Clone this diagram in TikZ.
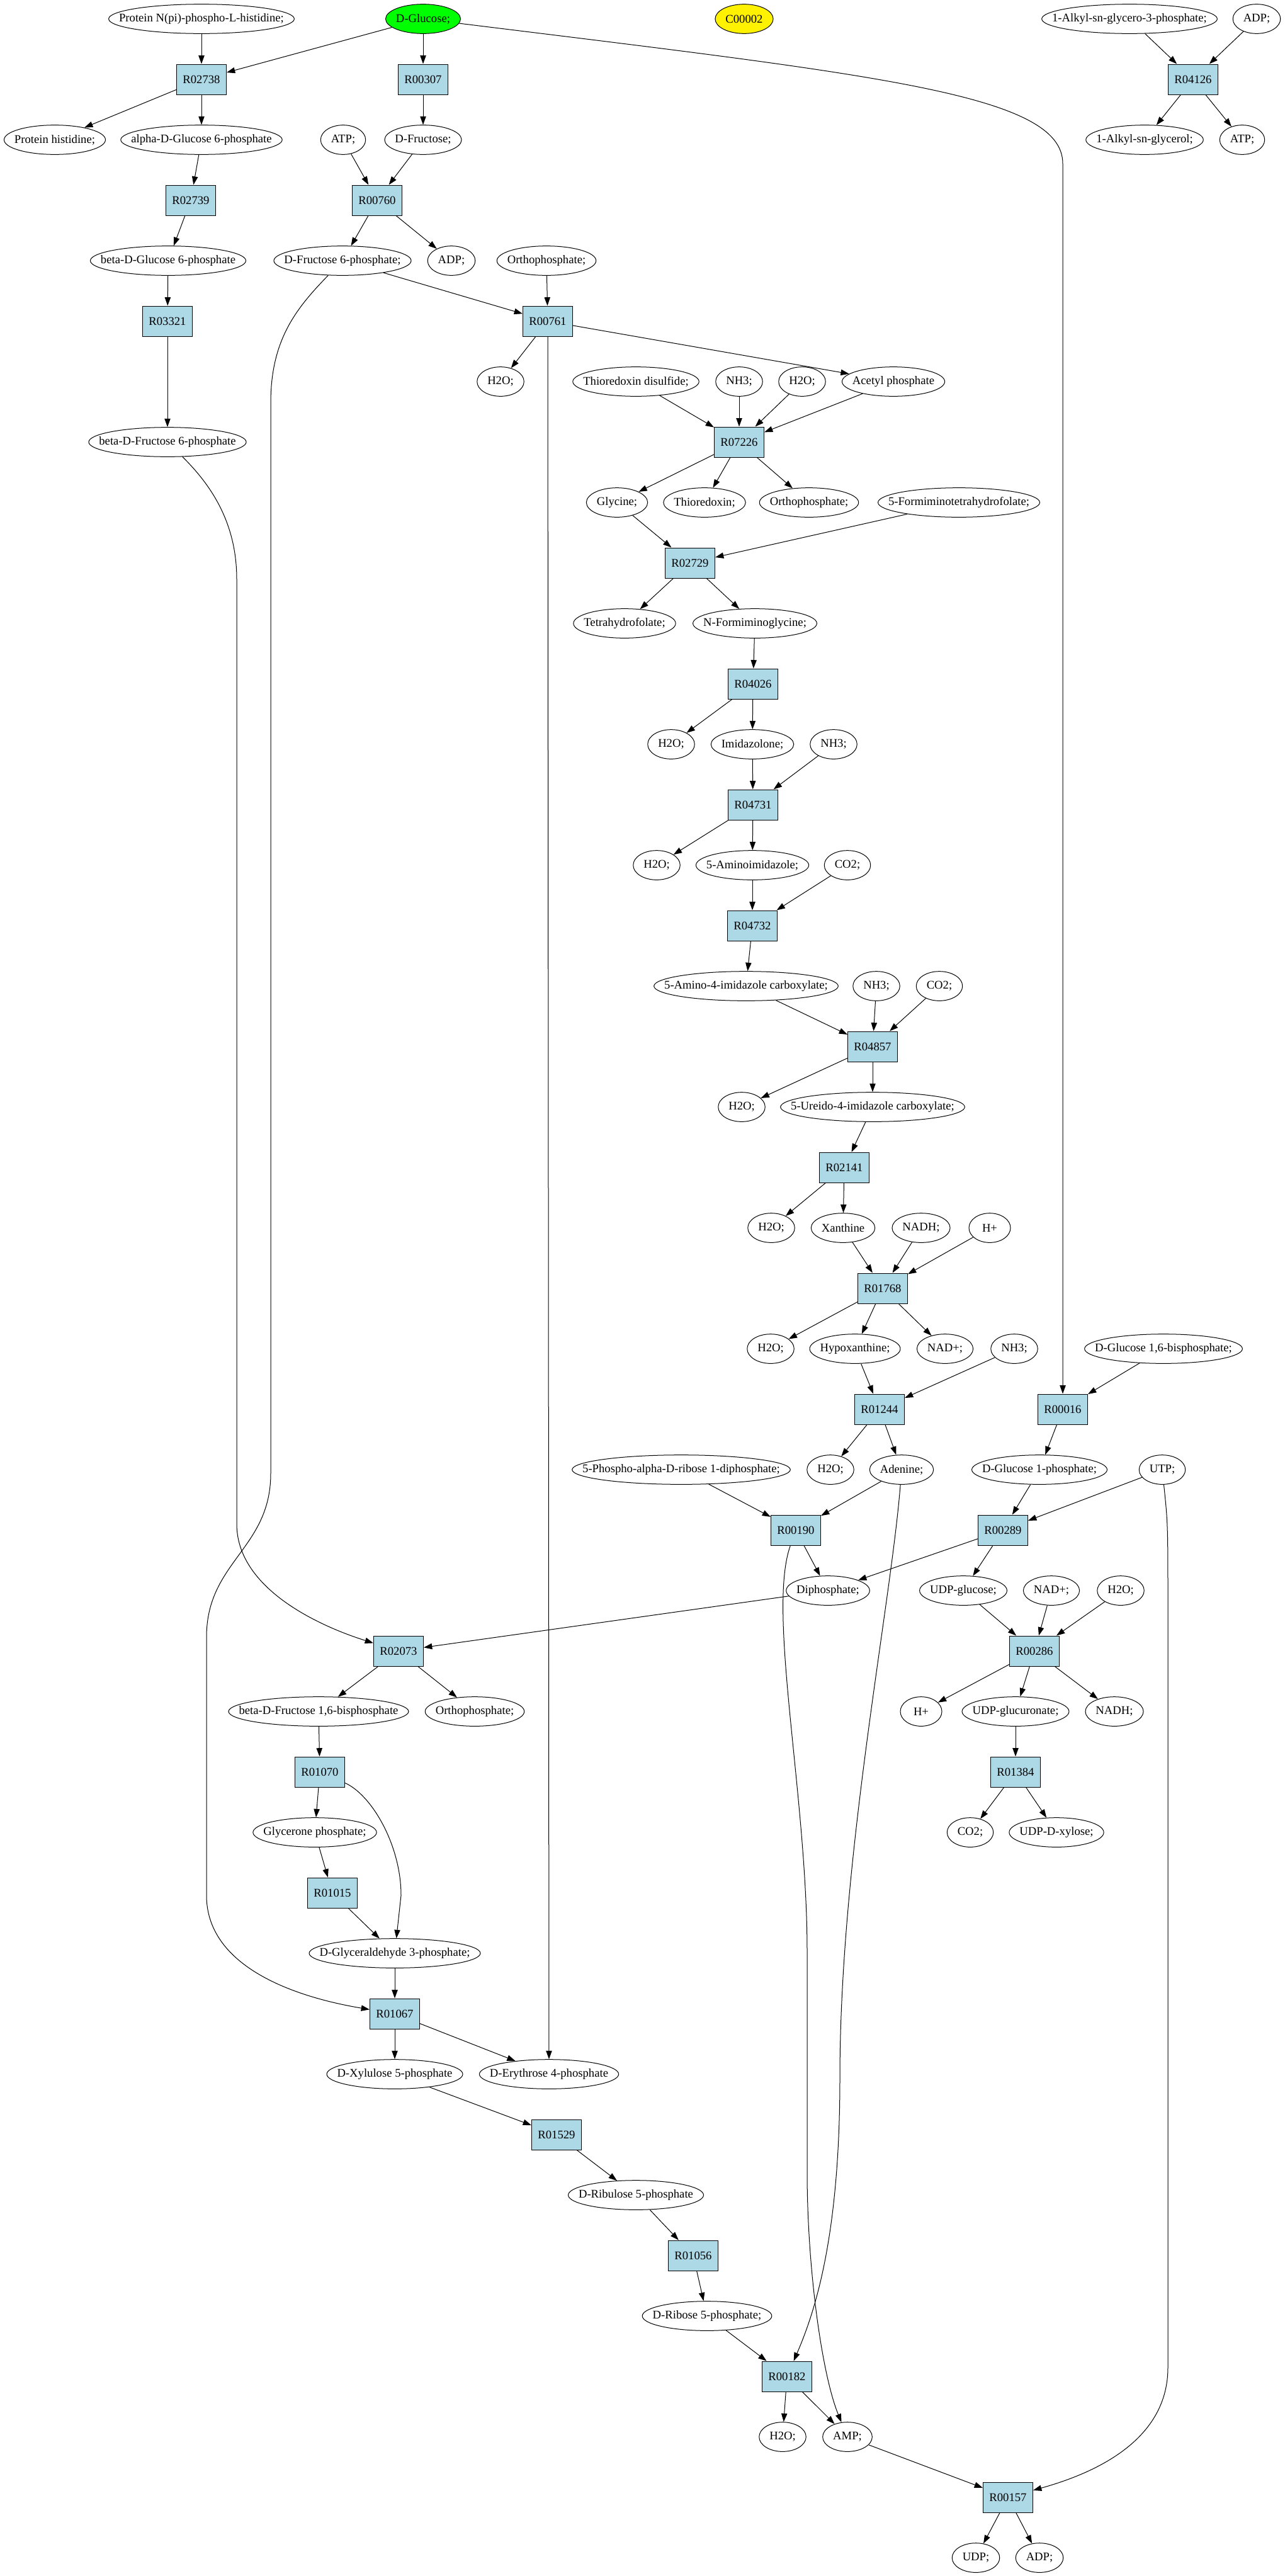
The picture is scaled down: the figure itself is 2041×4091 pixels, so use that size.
\documentclass[tikz,border=0pt]{standalone}
\usepackage{fontspec}
\setmainfont{Liberation Serif}
\usetikzlibrary{arrows.meta}
\usetikzlibrary{shapes.geometric}
\definecolor{reactionBlue}{HTML}{ADD8E6}
\newcommand{\compoundFont}{\fontsize{14}{16}\selectfont}
\newlength{\compoundWidth}
\newcommand{\keggCompound}[4][]{
  \node[compound,#1] (#2) at #3 {\settowidth{\compoundWidth}{#4}\makebox[\dimexpr(\compoundWidth+24.75pt)*7071/10000\relax]{#4}}
}

\begin{document}
\begin{tikzpicture}[x=0.75pt,y=-0.75pt,line width=0.75pt,
  compound/.style={ellipse,draw,inner sep=0pt,minimum width=49.5pt,minimum height=35pt,font=\compoundFont},
  reaction/.style={rectangle,draw,fill=reactionBlue,inner sep=0pt,minimum width=59.25pt,minimum height=36pt,font=\compoundFont},
  rxnarrow/.style={-{Triangle[length=10pt,width=7pt]}}]
  \useasboundingbox (0,0) rectangle (2041,4091);

  \keggCompound{pnh}{(320,30)}{Protein N(pi)-phospho-L-histidine;};
  \keggCompound[fill=green]{glc}{(672,30)}{D-Glucose;};
  \keggCompound[fill=yellow]{c00002}{(1182,30)}{C00002};
  \keggCompound{alkgp}{(1794,30)}{1-Alkyl-sn-glycero-3-phosphate;};
  \keggCompound{adpA}{(1996,30)}{ADP;};
  \node[reaction] (r02738) at (320,126) {R02738};
  \node[reaction] (r00307) at (672,126) {R00307};
  \node[reaction] (r04126) at (1895,126) {R04126};
  \keggCompound{phis}{(87,222)}{Protein histidine;};
  \keggCompound{ag6p}{(320,222)}{alpha-D-Glucose 6-phosphate};
  \keggCompound{atpA}{(545,222)}{ATP;};
  \keggCompound{fru}{(672,222)}{D-Fructose;};
  \keggCompound{alkg}{(1818,222)}{1-Alkyl-sn-glycerol;};
  \keggCompound{atpB}{(1973,222)}{ATP;};
  \node[reaction] (r02739) at (303,318) {R02739};
  \node[reaction] (r00760) at (599,318) {R00760};
  \keggCompound{bg6p}{(267,414)}{beta-D-Glucose 6-phosphate};
  \keggCompound{f6p}{(544,414)}{D-Fructose 6-phosphate;};
  \keggCompound{adpB}{(717,414)}{ADP;};
  \keggCompound{piA}{(868,414)}{Orthophosphate;};
  \node[reaction] (r03321) at (266,510) {R03321};
  \node[reaction] (r00761) at (870,510) {R00761};
  \keggCompound{h2oA}{(795,606)}{H2O;};
  \keggCompound{trxss}{(1010,606)}{Thioredoxin disulfide;};
  \keggCompound{nh3A}{(1174,606)}{NH3;};
  \keggCompound{h2oB}{(1274,606)}{H2O;};
  \keggCompound{acp}{(1419,606)}{Acetyl phosphate};
  \keggCompound{bf6p}{(266,702)}{beta-D-Fructose 6-phosphate};
  \node[reaction] (r07226) at (1174,702) {R07226};
  \keggCompound{gly}{(980,798)}{Glycine;};
  \keggCompound{trx}{(1119,798)}{Thioredoxin;};
  \keggCompound{piB}{(1285,798)}{Orthophosphate;};
  \keggCompound{fthf}{(1523,798)}{5-Formiminotetrahydrofolate;};
  \node[reaction] (r02729) at (1096,894) {R02729};
  \keggCompound{thf}{(992,990)}{Tetrahydrofolate;};
  \keggCompound{fig}{(1199,990)}{N-Formiminoglycine;};
  \node[reaction] (r04026) at (1196,1086) {R04026};
  \keggCompound{h2oC}{(1066,1182)}{H2O;};
  \keggCompound{imz}{(1195,1182)}{Imidazolone;};
  \keggCompound{nh3B}{(1324,1182)}{NH3;};
  \node[reaction] (r04731) at (1196,1278) {R04731};
  \keggCompound{h2oD}{(1043,1374)}{H2O;};
  \keggCompound{aimz}{(1195,1374)}{5-Aminoimidazole;};
  \keggCompound{co2A}{(1346,1374)}{CO2;};
  \node[reaction] (r04732) at (1195,1470) {R04732};
  \keggCompound{aicx}{(1185,1566)}{5-Amino-4-imidazole carboxylate;};
  \keggCompound{nh3C}{(1392,1566)}{NH3;};
  \keggCompound{co2B}{(1492,1566)}{CO2;};
  \node[reaction] (r04857) at (1386,1662) {R04857};
  \keggCompound{h2oE}{(1178,1758)}{H2O;};
  \keggCompound{uicx}{(1386,1758)}{5-Ureido-4-imidazole carboxylate;};
  \node[reaction] (r02141) at (1341,1854) {R02141};
  \keggCompound{h2oF}{(1225,1950)}{H2O;};
  \keggCompound{xan}{(1339,1950)}{Xanthine};
  \keggCompound{nadhA}{(1463,1950)}{NADH;};
  \keggCompound{hplusA}{(1572,1950)}{H+};
  \node[reaction] (r01768) at (1402,2046) {R01768};
  \keggCompound{h2oG}{(1224,2142)}{H2O;};
  \keggCompound{hyp}{(1358,2142)}{Hypoxanthine;};
  \keggCompound{nadA}{(1501,2142)}{NAD+;};
  \keggCompound{nh3D}{(1611,2142)}{NH3;};
  \keggCompound{g16bp}{(1848,2142)}{D-Glucose 1,6-bisphosphate;};
  \node[reaction] (r01244) at (1397,2238) {R01244};
  \node[reaction] (r00016) at (1688,2238) {R00016};
  \keggCompound{prpp}{(1082,2334)}{5-Phospho-alpha-D-ribose 1-diphosphate;};
  \keggCompound{h2oH}{(1319,2334)}{H2O;};
  \keggCompound{ade}{(1432,2334)}{Adenine;};
  \keggCompound{g1p}{(1651,2334)}{D-Glucose 1-phosphate;};
  \keggCompound{utp}{(1846,2334)}{UTP;};
  \node[reaction] (r00190) at (1264,2430) {R00190};
  \node[reaction] (r00289) at (1593,2430) {R00289};
  \keggCompound{ppi}{(1315,2526)}{Diphosphate;};
  \keggCompound{udpglc}{(1530,2526)}{UDP-glucose;};
  \keggCompound{nadB}{(1670,2526)}{NAD+;};
  \keggCompound{h2oI}{(1780,2526)}{H2O;};
  \node[reaction] (r02073) at (633,2622) {R02073};
  \node[reaction] (r00286) at (1643,2622) {R00286};
  \keggCompound{fbp}{(506,2718)}{beta-D-Fructose 1,6-bisphosphate};
  \keggCompound{piC}{(754,2718)}{Orthophosphate;};
  \keggCompound{hplusB}{(1463,2718)}{H+};
  \keggCompound{udpgla}{(1613,2718)}{UDP-glucuronate;};
  \keggCompound{nadhB}{(1770,2718)}{NADH;};
  \node[reaction] (r01070) at (508,2814) {R01070};
  \node[reaction] (r01384) at (1613,2814) {R01384};
  \keggCompound{dhap}{(500,2910)}{Glycerone phosphate;};
  \keggCompound{co2C}{(1541,2910)}{CO2;};
  \keggCompound{udpxyl}{(1678,2910)}{UDP-D-xylose;};
  \node[reaction] (r01015) at (528,3006) {R01015};
  \keggCompound{gap}{(627,3102)}{D-Glyceraldehyde 3-phosphate;};
  \node[reaction] (r01067) at (627,3198) {R01067};
  \keggCompound{xu5p}{(627,3294)}{D-Xylulose 5-phosphate};
  \keggCompound{e4p}{(872,3294)}{D-Erythrose 4-phosphate};
  \node[reaction] (r01529) at (884,3390) {R01529};
  \keggCompound{ru5p}{(1010,3486)}{D-Ribulose 5-phosphate};
  \node[reaction] (r01056) at (1101,3582) {R01056};
  \keggCompound{r5p}{(1123,3678)}{D-Ribose 5-phosphate;};
  \node[reaction] (r00182) at (1250,3774) {R00182};
  \keggCompound{h2oJ}{(1243,3870)}{H2O;};
  \keggCompound{amp}{(1346,3870)}{AMP;};
  \node[reaction] (r00157) at (1601,3966) {R00157};
  \keggCompound{udp}{(1550,4062)}{UDP;};
  \keggCompound{adpC}{(1651,4062)}{ADP;};

  \draw[rxnarrow] (pnh) -- (r02738);
  \draw[rxnarrow] (glc) -- (r02738);
  \draw[rxnarrow] (glc) -- (r00307);
  \draw[rxnarrow] (glc) .. controls (1400,120) and (1688,150) .. (1688,260) -- (r00016);
  \draw[rxnarrow] (alkgp) -- (r04126);
  \draw[rxnarrow] (adpA) -- (r04126);
  \draw[rxnarrow] (r04126) -- (alkg);
  \draw[rxnarrow] (r04126) -- (atpB);
  \draw[rxnarrow] (r02738) -- (phis);
  \draw[rxnarrow] (r02738) -- (ag6p);
  \draw[rxnarrow] (r00307) -- (fru);
  \draw[rxnarrow] (atpA) -- (r00760);
  \draw[rxnarrow] (fru) -- (r00760);
  \draw[rxnarrow] (ag6p) -- (r02739);
  \draw[rxnarrow] (r02739) -- (bg6p);
  \draw[rxnarrow] (r00760) -- (f6p);
  \draw[rxnarrow] (r00760) -- (adpB);
  \draw[rxnarrow] (bg6p) -- (r03321);
  \draw[rxnarrow] (f6p) -- (r00761);
  \draw[rxnarrow] (piA) -- (r00761);
  \draw[rxnarrow] (f6p) .. controls (470,490) and (430,540) .. (430,640) -- (430,2340)
    .. controls (430,2460) and (328,2480) .. (328,2600) -- (328,3010)
    .. controls (328,3120) and (460,3170) .. (r01067);
  \draw[rxnarrow] (r03321) -- (bf6p);
  \draw[rxnarrow] (bf6p) .. controls (335,770) and (376,830) .. (376,920) -- (376,2420)
    .. controls (376,2520) and (500,2580) .. (r02073);
  \draw[rxnarrow] (r00761) -- (h2oA);
  \draw[rxnarrow] (r00761) -- (acp);
  \draw[rxnarrow] (r00761) -- (e4p);
  \draw[rxnarrow] (trxss) -- (r07226);
  \draw[rxnarrow] (nh3A) -- (r07226);
  \draw[rxnarrow] (h2oB) -- (r07226);
  \draw[rxnarrow] (acp) -- (r07226);
  \draw[rxnarrow] (r07226) -- (gly);
  \draw[rxnarrow] (r07226) -- (trx);
  \draw[rxnarrow] (r07226) -- (piB);
  \draw[rxnarrow] (gly) -- (r02729);
  \draw[rxnarrow] (fthf) -- (r02729);
  \draw[rxnarrow] (r02729) -- (thf);
  \draw[rxnarrow] (r02729) -- (fig);
  \draw[rxnarrow] (fig) -- (r04026);
  \draw[rxnarrow] (r04026) -- (h2oC);
  \draw[rxnarrow] (r04026) -- (imz);
  \draw[rxnarrow] (imz) -- (r04731);
  \draw[rxnarrow] (nh3B) -- (r04731);
  \draw[rxnarrow] (r04731) -- (h2oD);
  \draw[rxnarrow] (r04731) -- (aimz);
  \draw[rxnarrow] (aimz) -- (r04732);
  \draw[rxnarrow] (co2A) -- (r04732);
  \draw[rxnarrow] (r04732) -- (aicx);
  \draw[rxnarrow] (aicx) -- (r04857);
  \draw[rxnarrow] (nh3C) -- (r04857);
  \draw[rxnarrow] (co2B) -- (r04857);
  \draw[rxnarrow] (r04857) -- (h2oE);
  \draw[rxnarrow] (r04857) -- (uicx);
  \draw[rxnarrow] (uicx) -- (r02141);
  \draw[rxnarrow] (r02141) -- (h2oF);
  \draw[rxnarrow] (r02141) -- (xan);
  \draw[rxnarrow] (xan) -- (r01768);
  \draw[rxnarrow] (nadhA) -- (r01768);
  \draw[rxnarrow] (hplusA) -- (r01768);
  \draw[rxnarrow] (r01768) -- (h2oG);
  \draw[rxnarrow] (r01768) -- (hyp);
  \draw[rxnarrow] (r01768) -- (nadA);
  \draw[rxnarrow] (hyp) -- (r01244);
  \draw[rxnarrow] (nh3D) -- (r01244);
  \draw[rxnarrow] (g16bp) -- (r00016);
  \draw[rxnarrow] (r01244) -- (h2oH);
  \draw[rxnarrow] (r01244) -- (ade);
  \draw[rxnarrow] (r00016) -- (g1p);
  \draw[rxnarrow] (prpp) -- (r00190);
  \draw[rxnarrow] (ade) -- (r00190);
  \draw[rxnarrow] (ade) .. controls (1415,2550) and (1334,2950) .. (1334,3300)
    .. controls (1334,3550) and (1295,3670) .. (r00182);
  \draw[rxnarrow] (g1p) -- (r00289);
  \draw[rxnarrow] (utp) -- (r00289);
  \draw[rxnarrow] (utp) .. controls (1855,2420) .. (1855,2560) -- (1855,3760)
    .. controls (1855,3880) and (1730,3930) .. (r00157);
  \draw[rxnarrow] (r00190) -- (ppi);
  \draw[rxnarrow] (r00190) .. controls (1218,2560) and (1282,2850) .. (1282,3100) -- (1282,3450)
    .. controls (1282,3600) and (1305,3770) .. (amp);
  \draw[rxnarrow] (r00289) -- (ppi);
  \draw[rxnarrow] (r00289) -- (udpglc);
  \draw[rxnarrow] (ppi) -- (r02073);
  \draw[rxnarrow] (udpglc) -- (r00286);
  \draw[rxnarrow] (nadB) -- (r00286);
  \draw[rxnarrow] (h2oI) -- (r00286);
  \draw[rxnarrow] (r00286) -- (hplusB);
  \draw[rxnarrow] (r00286) -- (udpgla);
  \draw[rxnarrow] (r00286) -- (nadhB);
  \draw[rxnarrow] (udpgla) -- (r01384);
  \draw[rxnarrow] (r01384) -- (co2C);
  \draw[rxnarrow] (r01384) -- (udpxyl);
  \draw[rxnarrow] (r02073) -- (fbp);
  \draw[rxnarrow] (r02073) -- (piC);
  \draw[rxnarrow] (fbp) -- (r01070);
  \draw[rxnarrow] (r01070) -- (dhap);
  \draw[rxnarrow] (r01070) .. controls (590,2850) and (637,2930) .. (637,3010) -- (gap);
  \draw[rxnarrow] (dhap) -- (r01015);
  \draw[rxnarrow] (r01015) -- (gap);
  \draw[rxnarrow] (gap) -- (r01067);
  \draw[rxnarrow] (r01067) -- (xu5p);
  \draw[rxnarrow] (r01067) -- (e4p);
  \draw[rxnarrow] (xu5p) -- (r01529);
  \draw[rxnarrow] (r01529) -- (ru5p);
  \draw[rxnarrow] (ru5p) -- (r01056);
  \draw[rxnarrow] (r01056) -- (r5p);
  \draw[rxnarrow] (r5p) -- (r00182);
  \draw[rxnarrow] (r00182) -- (h2oJ);
  \draw[rxnarrow] (r00182) -- (amp);
  \draw[rxnarrow] (amp) -- (r00157);
  \draw[rxnarrow] (r00157) -- (udp);
  \draw[rxnarrow] (r00157) -- (adpC);
\end{tikzpicture}
\end{document}
